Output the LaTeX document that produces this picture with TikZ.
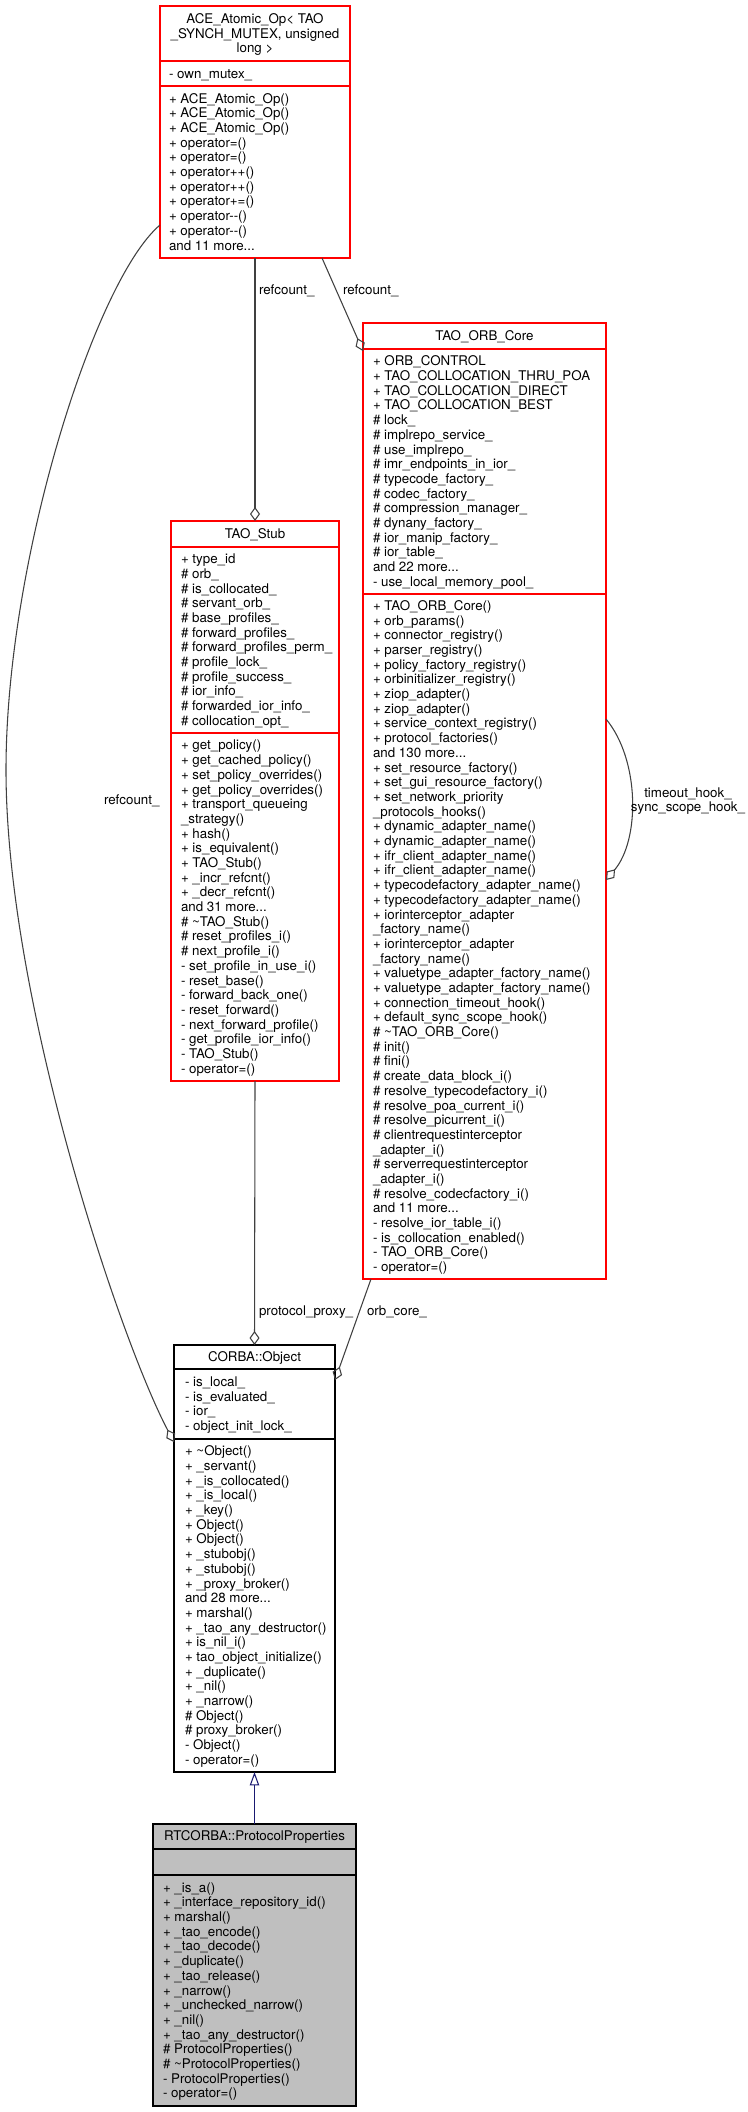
\documentclass[tikz,border=0pt]{standalone}
\usepackage{fontspec}
\setmainfont{TeX Gyre Heros}
\usetikzlibrary{arrows.meta,fit,calc}
\definecolor{conngray}{HTML}{404040}
\definecolor{navyblue}{HTML}{191970}
\definecolor{boxgray}{HTML}{BFBFBF}
\definecolor{boxred}{HTML}{FF0000}
\tikzset{
 txt/.style={font=\fontsize{10}{11.02}\selectfont, inner sep=0pt, outer sep=0pt},
 secttext/.style={txt, align=left, anchor=west},
 ttl/.style={txt, anchor=base},
 lbl/.style={txt, anchor=base west},
 rbox/.style={draw=boxred, line width=0.9pt, inner sep=0pt, outer sep=0pt},
 bbox/.style={draw=black, line width=0.9pt, inner sep=0pt, outer sep=0pt},
 rsep/.style={draw=boxred, line width=0.9pt},
 bsep/.style={draw=black, line width=0.9pt},
 connline/.style={draw=conngray, line width=0.8pt},
 agg/.style={connline, -{Diamond[open, length=10.5pt, width=7.5pt]}},
 inh/.style={draw=navyblue, line width=0.8pt, -{Triangle[open, length=10pt, width=7pt]}},
}
\newcommand\sectxt[4]{\node[secttext] (#1) at (#2,#3) {\strut #4\strut};}
\begin{document}
\begin{tikzpicture}[x=0.75pt,y=-0.75pt]
\useasboundingbox (0,0) rectangle (748,2112);

% ---------- ACE_Atomic_Op ----------
\node[rbox, fit={(160,6) (350,258)}] (ace) {};
\draw[rsep] (160,61) -- (350,61);
\draw[rsep] (160,86) -- (350,86);
\node[txt, align=center] (aceT) at (255,35.1) {\strut ACE\_Atomic\_Op< TAO\\\_SYNCH\_MUTEX, unsigned\\long >\strut};
\sectxt{aceA}{169}{75.1}{- own\_mutex\_}
\sectxt{aceM}{169}{173.6}{+ ACE\_Atomic\_Op()\\+ ACE\_Atomic\_Op()\\+ ACE\_Atomic\_Op()\\+ operator=()\\+ operator=()\\+ operator++()\\+ operator++()\\+ operator+=()\\+ operator-{}-()\\+ operator-{}-()\\and 11 more...}

% ---------- TAO_Stub ----------
\node[rbox, fit={(171,521) (339,1081)}] (stub) {};
\draw[rsep] (171,547) -- (339,547);
\draw[rsep] (171,733) -- (339,733);
\node[ttl] (stubT) at (255,538) {TAO\_Stub};
\sectxt{stubA}{181}{641.6}{+ type\_id\\\# orb\_\\\# is\_collocated\_\\\# servant\_orb\_\\\# base\_profiles\_\\\# forward\_profiles\_\\\# forward\_profiles\_perm\_\\\# profile\_lock\_\\\# profile\_success\_\\\# ior\_info\_\\\# forwarded\_ior\_info\_\\\# collocation\_opt\_}
\sectxt{stubM}{181}{908.6}{+ get\_policy()\\+ get\_cached\_policy()\\+ set\_policy\_overrides()\\+ get\_policy\_overrides()\\+ transport\_queueing\\\_strategy()\\+ hash()\\+ is\_equivalent()\\+ TAO\_Stub()\\+ \_incr\_refcnt()\\+ \_decr\_refcnt()\\and 31 more...\\\# \textasciitilde TAO\_Stub()\\\# reset\_profiles\_i()\\\# next\_profile\_i()\\- set\_profile\_in\_use\_i()\\- reset\_base()\\- forward\_back\_one()\\- reset\_forward()\\- next\_forward\_profile()\\- get\_profile\_ior\_info()\\- TAO\_Stub()\\- operator=()}

% ---------- TAO_ORB_Core ----------
\node[rbox, fit={(363,323) (606,1279)}] (orb) {};
\draw[rsep] (363,349) -- (606,349);
\draw[rsep] (363,594) -- (606,594);
\node[ttl] (orbT) at (484.5,340) {TAO\_ORB\_Core};
\sectxt{orbA}{373}{473.1}{+ ORB\_CONTROL\\+ TAO\_COLLOCATION\_THRU\_POA\\+ TAO\_COLLOCATION\_DIRECT\\+ TAO\_COLLOCATION\_BEST\\\# lock\_\\\# implrepo\_service\_\\\# use\_implrepo\_\\\# imr\_endpoints\_in\_ior\_\\\# typecode\_factory\_\\\# codec\_factory\_\\\# compression\_manager\_\\\# dynany\_factory\_\\\# ior\_manip\_factory\_\\\# ior\_table\_\\and 22 more...\\- use\_local\_memory\_pool\_}
\sectxt{orbM}{373}{938.1}{+ TAO\_ORB\_Core()\\+ orb\_params()\\+ connector\_registry()\\+ parser\_registry()\\+ policy\_factory\_registry()\\+ orbinitializer\_registry()\\+ ziop\_adapter()\\+ ziop\_adapter()\\+ service\_context\_registry()\\+ protocol\_factories()\\and 130 more...\\+ set\_resource\_factory()\\+ set\_gui\_resource\_factory()\\+ set\_network\_priority\\\_protocols\_hooks()\\+ dynamic\_adapter\_name()\\+ dynamic\_adapter\_name()\\+ ifr\_client\_adapter\_name()\\+ ifr\_client\_adapter\_name()\\+ typecodefactory\_adapter\_name()\\+ typecodefactory\_adapter\_name()\\+ iorinterceptor\_adapter\\\_factory\_name()\\+ iorinterceptor\_adapter\\\_factory\_name()\\+ valuetype\_adapter\_factory\_name()\\+ valuetype\_adapter\_factory\_name()\\+ connection\_timeout\_hook()\\+ default\_sync\_scope\_hook()\\\# \textasciitilde TAO\_ORB\_Core()\\\# init()\\\# fini()\\\# create\_data\_block\_i()\\\# resolve\_typecodefactory\_i()\\\# resolve\_poa\_current\_i()\\\# resolve\_picurrent\_i()\\\# clientrequestinterceptor\\\_adapter\_i()\\\# serverrequestinterceptor\\\_adapter\_i()\\\# resolve\_codecfactory\_i()\\and 11 more...\\- resolve\_ior\_table\_i()\\- is\_collocation\_enabled()\\- TAO\_ORB\_Core()\\- operator=()}

% ---------- CORBA::Object ----------
\node[bbox, fit={(174,1345) (335,1772)}] (corba) {};
\draw[bsep] (174,1369) -- (335,1369);
\draw[bsep] (174,1439) -- (335,1439);
\node[ttl] (corbaT) at (254.5,1361.5) {CORBA::Object};
\sectxt{corbaA}{185}{1405.6}{- is\_local\_\\- is\_evaluated\_\\- ior\_\\- object\_init\_lock\_}
\sectxt{corbaM}{185}{1607.1}{+ \textasciitilde Object()\\+ \_servant()\\+ \_is\_collocated()\\+ \_is\_local()\\+ \_key()\\+ Object()\\+ Object()\\+ \_stubobj()\\+ \_stubobj()\\+ \_proxy\_broker()\\and 28 more...\\+ marshal()\\+ \_tao\_any\_destructor()\\+ is\_nil\_i()\\+ tao\_object\_initialize()\\+ \_duplicate()\\+ \_nil()\\+ \_narrow()\\\# Object()\\\# proxy\_broker()\\- Object()\\- operator=()}

% ---------- RTCORBA::ProtocolProperties ----------
\node[bbox, fill=boxgray, fit={(153,1824) (356,2106)}] (rt) {};
\draw[bsep] (153,1849) -- (356,1849);
\draw[bsep] (153,1875) -- (356,1875);
\node[ttl] (rtT) at (254.5,1840.5) {RTCORBA::ProtocolProperties};
\sectxt{rtM}{163}{1992.1}{+ \_is\_a()\\+ \_interface\_repository\_id()\\+ marshal()\\+ \_tao\_encode()\\+ \_tao\_decode()\\+ \_duplicate()\\+ \_tao\_release()\\+ \_narrow()\\+ \_unchecked\_narrow()\\+ \_nil()\\+ \_tao\_any\_destructor()\\\# ProtocolProperties()\\\# \textasciitilde ProtocolProperties()\\- ProtocolProperties()\\- operator=()}

% ---------- connectors ----------
\draw[agg] (ace.south) -- (stub.north);
\draw[agg] ($(ace.south west)+(162,0)$) -- ($(orb.north west)+(0,28)$);
\draw[agg] ($(ace.north west)+(0,219)$) .. controls (95,280) and (6,560) .. (6,770)
  .. controls (6,1000) and (120,1340) .. ($(corba.north west)+(0,97)$);
\draw[agg] (stub.south) -- (corba.north);
\draw[agg] ($(orb.south west)+(8,0)$) -- ($(corba.north east)+(0,35)$);
\draw[agg] ($(orb.north east)+(0,396)$) .. controls (640,760) and (640,840) .. ($(orb.north east)+(0,557)$);
\draw[inh] (rt.north) -- (corba.south);

% ---------- labels ----------
\node[lbl] (l1) at (259,294) {refcount\_};
\node[lbl] (l2) at (343,294) {refcount\_};
\node[lbl] (l3) at (104,804.5) {refcount\_};
\node[lbl] (l4) at (259,1315) {protocol\_proxy\_};
\node[lbl] (l5) at (367,1315) {orb\_core\_};
\node[txt, align=center] (l6) at (688,801.4) {\strut timeout\_hook\_\\sync\_scope\_hook\_\strut};
\end{tikzpicture}
\end{document}
